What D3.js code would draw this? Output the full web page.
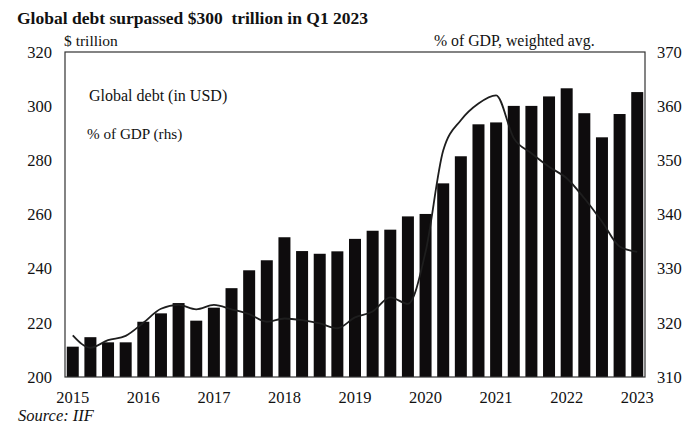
<!DOCTYPE html>
<html><head><meta charset="utf-8">
<script src="https://cdn.jsdelivr.net/npm/d3@7"></script>
<style>
html,body{margin:0;padding:0;background:#fff;}
svg{display:block;}
text{font-family:"Liberation Serif","Times New Roman",serif;fill:#111;}
</style></head>
<body><svg id="c" width="700" height="426"></svg>
<script>
const quarters = ["2015Q1","2015Q2","2015Q3","2015Q4","2016Q1","2016Q2","2016Q3","2016Q4",
"2017Q1","2017Q2","2017Q3","2017Q4","2018Q1","2018Q2","2018Q3","2018Q4",
"2019Q1","2019Q2","2019Q3","2019Q4","2020Q1","2020Q2","2020Q3","2020Q4",
"2021Q1","2021Q2","2021Q3","2021Q4","2022Q1","2022Q2","2022Q3","2022Q4","2023Q1"];
const debtUSD = [211.2,214.7,212.8,212.8,220.4,223.5,227.3,220.8,225.6,232.8,239.4,243.1,
251.6,246.5,245.5,246.4,251.0,254.0,254.4,259.3,260.2,271.5,281.5,293.3,
294.0,300.1,300.1,303.6,306.6,297.4,288.5,297.1,305.2];
const pctGDP = [317.7,315.4,316.8,317.6,320.0,322.6,323.3,322.5,323.3,322.5,321.6,320.2,
320.8,320.5,319.9,319.0,321.0,322.1,324.7,323.5,333.1,351.8,357.4,360.5,
362.0,354.1,351.3,348.8,346.7,343.0,338.7,334.1,333.1];
const leftTicks = [200,220,240,260,280,300,320];
const rightTicks = [310,320,330,340,350,360,370];
const yearTicks = ["2015Q1","2016Q1","2017Q1","2018Q1","2019Q1","2020Q1","2021Q1","2022Q1","2023Q1"];

const svg = d3.select("#c");
const L = 65, R = 645, T = 52, B = 377;

const x = d3.scaleBand().domain(quarters).range([L, R]).paddingInner(0.32).paddingOuter(0.1);
const yL = d3.scaleLinear().domain([200, 320]).range([B, T]);
const yR = d3.scaleLinear().domain([310, 370]).range([B, T]);

// bars
svg.append("g").selectAll("rect").data(debtUSD).join("rect")
  .attr("x", (d,i) => x(quarters[i]))
  .attr("width", x.bandwidth())
  .attr("y", d => yL(d))
  .attr("height", d => B - yL(d))
  .attr("fill", "#0e0c0d");

// line
const line = d3.line()
  .x((d,i) => x(quarters[i]) + x.bandwidth()/2)
  .y(d => yR(d))
  .curve(d3.curveMonotoneX);
svg.append("path").datum(pctGDP)
  .attr("d", line).attr("fill", "none")
  .attr("stroke", "#1e1e1e").attr("stroke-width", 1.8).attr("stroke-linejoin","round");

// frame
svg.append("rect").attr("x", L).attr("y", T).attr("width", R - L).attr("height", B - T)
  .attr("fill", "none").attr("stroke", "#333").attr("stroke-width", 1.2);

// axes
const fs = "16.5px";
const gl = svg.append("g").attr("transform", `translate(${L},0)`)
  .call(d3.axisLeft(yL).tickValues(leftTicks).tickSize(0).tickPadding(13));
const gr = svg.append("g").attr("transform", `translate(${R},0)`)
  .call(d3.axisRight(yR).tickValues(rightTicks).tickSize(0).tickPadding(12));
const gb = svg.append("g").attr("transform", `translate(0,${B})`)
  .call(d3.axisBottom(x).tickValues(yearTicks).tickFormat(d => d.slice(0,4)).tickSize(0).tickPadding(14));
[gl, gr, gb].forEach(g => {
  g.select(".domain").remove();
  g.selectAll("text").attr("font-family", '"Liberation Serif",serif').attr("font-size", fs).attr("fill", "#111");
});

// texts
svg.append("text").attr("x", 17).attr("y", 24).attr("font-size", "17.5px").attr("font-weight", "bold")
  .text("Global debt surpassed $300\u00a0 trillion in Q1 2023");
svg.append("text").attr("x", 64).attr("y", 46).attr("font-size", "15.5px").text("$ trillion");
svg.append("text").attr("x", 434).attr("y", 46).attr("font-size", "15.8px").text("% of GDP, weighted avg.");
svg.append("text").attr("x", 89).attr("y", 101).attr("font-size", "16px").text("Global debt (in USD)");
svg.append("text").attr("x", 87).attr("y", 139).attr("font-size", "15.2px").text("% of GDP (rhs)");
svg.append("text").attr("x", 18).attr("y", 421).attr("font-size", "16.5px").attr("font-style", "italic").text("Source: IIF");
</script></body></html>
